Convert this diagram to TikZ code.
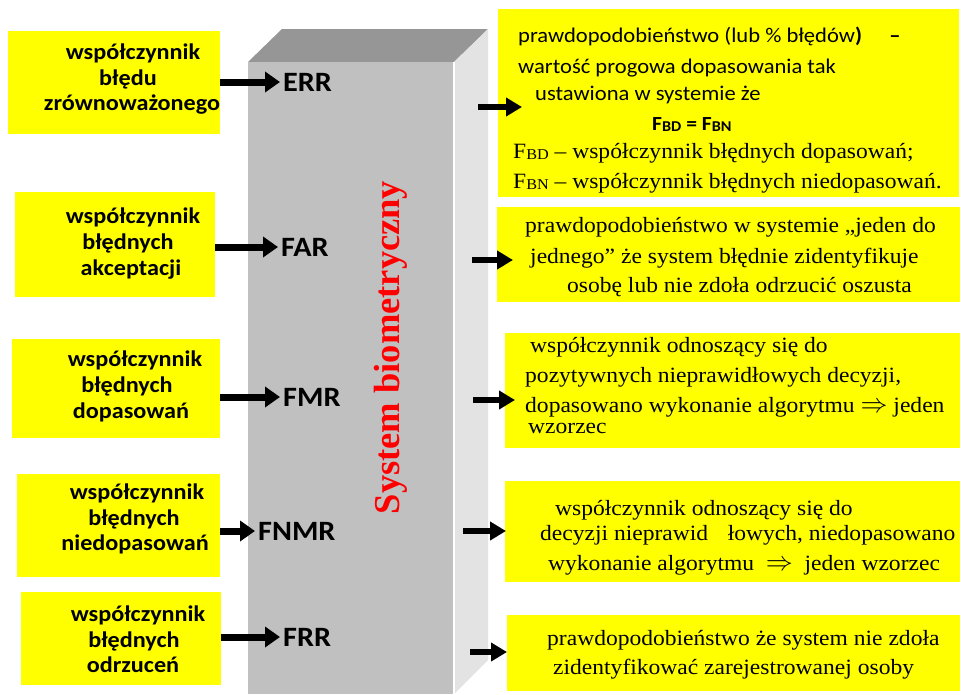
\documentclass[tikz,border=0pt]{standalone}
\usepackage{fontspec}
\usetikzlibrary{arrows.meta}
\newfontfamily\calfont[FakeStretch=1.08]{Carlito}
\newfontfamily\tmsfont[FakeStretch=1.08]{Liberation Serif}
\newfontfamily\tmsplain{Liberation Serif}
\definecolor{boxyellow}{HTML}{FFFF00}
\definecolor{frontgray}{HTML}{C0C0C0}
\definecolor{topgray}{HTML}{969696}
\definecolor{sidegray}{HTML}{E3E3E3}
\newcommand{\smallidx}[1]{\raisebox{-1.5pt}{\fontsize{15}{15}\selectfont #1}}
\newcommand{\implarrow}{\raisebox{-0.5pt}{\scalebox{1.3}{$\Rightarrow$}}}
\begin{document}
\begin{tikzpicture}[x=1pt,y=-1pt,
  ybox/.style={fill=boxyellow, draw=none, inner sep=0pt, outer sep=0pt, anchor=north west},
  ltext/.style={font=\calfont\bfseries\fontsize{22.4}{26}\selectfont, inner sep=0pt, anchor=base},
  tag/.style={font=\calfont\bfseries\fontsize{28}{32}\selectfont, inner sep=0pt, anchor=west},
  rsans/.style={font=\calfont\fontsize{20.9}{24}\selectfont, inner sep=0pt, anchor=base west},
  rserif/.style={font=\tmsfont\fontsize{21.8}{25}\selectfont, inner sep=0pt, anchor=base west},
  larr/.style={line width=7pt, -{Triangle[length=15pt,width=20pt]}, shorten >=3pt},
  rarr/.style={line width=6pt, -{Triangle[length=16pt,width=18pt]}},
]
\useasboundingbox (0,0) rectangle (961,694);
\fill[white] (0,0) rectangle (961,694);

% the system block (cuboid)
\fill[topgray] (248,62) -- (282,29) -- (488,29) -- (454,62) -- cycle;
\fill[sidegray] (454,62) -- (488,29) -- (488,660) -- (454,694) -- cycle;
\fill[frontgray] (248,62) rectangle (454,694);
\draw[white, line width=1.2pt] (454,62) -- (454,694);
\node[rotate=90, font=\tmsplain\bfseries\fontsize{36.5}{40}\selectfont, text=red, inner sep=0pt] (sys) at (391,347.5) {System biometryczny};

% left boxes
\node[ybox, minimum width=212pt, minimum height=103pt] (L1) at (8,31) {};
\node[ybox, minimum width=200pt, minimum height=105pt] (L2) at (15,192) {};
\node[ybox, minimum width=208pt, minimum height=99pt] (L3) at (12,339) {};
\node[ybox, minimum width=203pt, minimum height=103pt] (L4) at (17,474) {};
\node[ybox, minimum width=200pt, minimum height=93pt] (L5) at (21,592) {};

\node[ltext] (l1a) at (133,59) {współczynnik};
\node[ltext] (l1b) at (128,85) {błędu};
\node[ltext] (l1c) at (132,110) {zrównoważonego};
\node[ltext] (l2a) at (133,223) {współczynnik};
\node[ltext] (l2b) at (128,249) {błędnych};
\node[ltext] (l2c) at (131,275) {akceptacji};
\node[ltext] (l3a) at (135,366) {współczynnik};
\node[ltext] (l3b) at (127,392) {błędnych};
\node[ltext] (l3c) at (131,418) {dopasowań};
\node[ltext] (l4a) at (137,499) {współczynnik};
\node[ltext] (l4b) at (134,525) {błędnych};
\node[ltext] (l4c) at (135,550) {niedopasowań};
\node[ltext] (l5a) at (138,621) {współczynnik};
\node[ltext] (l5b) at (134,647) {błędnych};
\node[ltext] (l5c) at (133,672) {odrzuceń};

% measure names on the block
\node[tag] (ERR) at (283,82) {ERR};
\node[tag] (FAR) at (281,247) {FAR};
\node[tag] (FMR) at (283,397) {FMR};
\node[tag] (FNMR) at (258,531) {FNMR};
\node[tag] (FRR) at (283,637) {FRR};

\draw[larr] (L1.east |- ERR.west) -- (ERR.west);
\draw[larr] (L2.east |- FAR.west) -- (FAR.west);
\draw[larr] (L3.east |- FMR.west) -- (FMR.west);
\draw[larr] (L4.east |- FNMR.west) -- (FNMR.west);
\draw[larr] (L5.east |- FRR.west) -- (FRR.west);

% right boxes
\node[ybox, minimum width=461pt, minimum height=188pt] (R1) at (498,9) {};
\node[ybox, minimum width=463pt, minimum height=95pt] (R2) at (497,207) {};
\node[ybox, minimum width=455pt, minimum height=115pt] (R3) at (505,333) {};
\node[ybox, minimum width=455pt, minimum height=101pt] (R4) at (505,481) {};
\node[ybox, minimum width=453pt, minimum height=76pt] (R5) at (507,615) {};

\node[rsans] (r1a) at (518,42) {prawdopodobieństwo (lub \% błędów\textbf{)}\hspace{1.3em}\textbf{–}};
\node[rsans] (r1b) at (518,73) {wartość progowa dopasowania tak};
\node[rsans] (r1c) at (535,100) {ustawiona w systemie że};
\node[rsans, font=\calfont\bfseries\fontsize{20}{23}\selectfont] (r1d) at (652,130) {F\smallidx{BD} = F\smallidx{BN}};
\node[rserif] (r1e) at (513,158) {F\smallidx{BD} – współczynnik błędnych dopasowań;};
\node[rserif] (r1f) at (513,188) {F\smallidx{BN} – współczynnik błędnych niedopasowań.};

\node[rserif] (r2a) at (525,232) {prawdopodobieństwo w systemie „jeden do};
\node[rserif] (r2b) at (530,263) {jednego” że system błędnie zidentyfikuje};
\node[rserif] (r2c) at (567,292) {osobę lub nie zdoła odrzucić oszusta};

\node[rserif] (r3a) at (530,352) {współczynnik odnoszący się do};
\node[rserif] (r3b) at (525,382) {pozytywnych nieprawidłowych decyzji,};
\node[rserif] (r3c) at (525,412) {dopasowano wykonanie algorytmu \implarrow\ jeden};
\node[rserif] (r3d) at (528,433) {wzorzec};

\node[rserif] (r4a) at (555,515) {współczynnik odnoszący się do};
\node[rserif] (r4b) at (540,540) {decyzji nieprawid\hspace{0.9em}łowych, niedopasowano};
\node[rserif] (r4c) at (548,570) {wykonanie algorytmu\ \ \implarrow\ \ jeden wzorzec};

\node[rserif] (r5a) at (547,645) {prawdopodobieństwo że system nie zdoła};
\node[rserif] (r5b) at (553,674) {zidentyfikować zarejestrowanej osoby};

% arrows leaving the block
\coordinate (o1) at (478,107); \coordinate (i1) at (522,107);
\coordinate (o2) at (472,260); \coordinate (i2) at (513,260);
\coordinate (o3) at (473,400); \coordinate (i3) at (515,400);
\coordinate (o4) at (463,531); \coordinate (i4) at (506,531);
\coordinate (o5) at (470,652); \coordinate (i5) at (507,652);
\draw[rarr] (o1) -- (i1);
\draw[rarr] (o2) -- (i2);
\draw[rarr] (o3) -- (i3);
\draw[rarr] (o4) -- (i4);
\draw[rarr] (o5) -- (i5);
\end{tikzpicture}
\end{document}
